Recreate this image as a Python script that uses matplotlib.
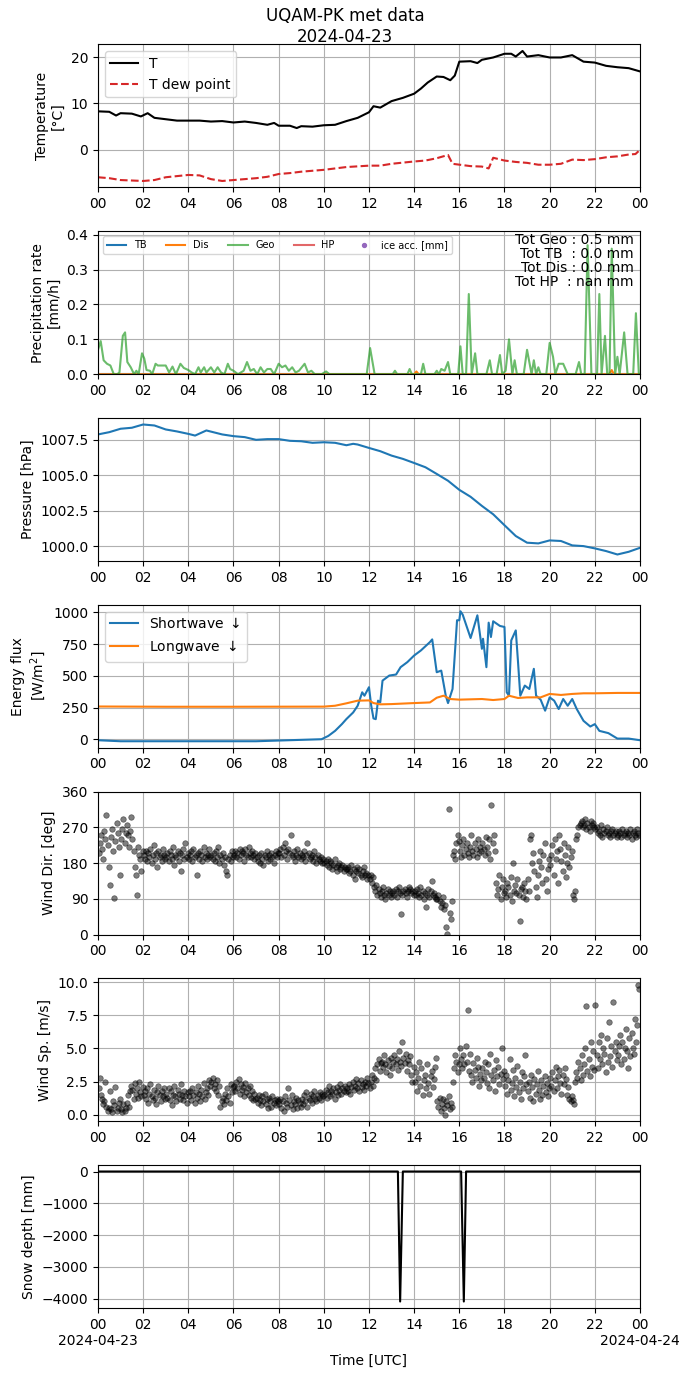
import numpy as np
import pandas as pd
import matplotlib
matplotlib.use("Agg")
import matplotlib.pyplot as plt
import matplotlib.dates as mdates
from matplotlib.ticker import FuncFormatter

BASE = pd.Timestamp("2024-04-23 00:00")

# ---------------- data ----------------
temp_hours = [0, 0.5, 0.8, 1, 1.5, 1.9, 2.2, 2.5, 3, 3.5, 4, 4.5, 5, 5.5, 6, 6.5, 7, 7.5, 7.8, 8, 8.5,
              8.8, 9, 9.5, 10, 10.5, 11, 11.5, 12, 12.2, 12.5, 13, 13.5, 14, 14.3, 14.6, 15, 15.3, 15.6,
              15.8, 16, 16.5, 16.8, 17, 17.5, 18, 18.3, 18.5, 18.8, 19, 19.5, 20, 20.5, 21, 21.5, 22,
              22.5, 23, 23.5, 24]
temp_T = [8.3, 8.2, 7.4, 7.9, 7.8, 7.2, 7.9, 6.9, 6.6, 6.3, 6.3, 6.3, 6.1, 6.2, 5.9, 6.1, 5.8, 5.4, 5.8,
          5.2, 5.2, 4.7, 5.1, 5.0, 5.3, 5.4, 6.2, 6.9, 8.1, 9.4, 9.1, 10.5, 11.2, 12.1, 13.2, 14.5, 15.8,
          15.7, 15.0, 16.0, 19.0, 19.1, 18.7, 19.4, 19.9, 20.7, 20.7, 20.1, 21.3, 20.1, 20.4, 19.9, 19.9,
          20.4, 19.0, 18.8, 18.1, 17.8, 17.6, 16.9]

dew_hours = [0, 0.5, 1, 2, 2.5, 3, 4, 4.5, 5, 5.5, 6, 6.5, 7, 7.5, 8, 8.5, 9, 10, 11, 12, 12.5, 13, 14,
             14.5, 15, 15.5, 15.7, 16.5, 17, 17.3, 17.5, 18, 18.5, 19, 19.5, 20, 20.5, 21, 21.5, 22,
             22.5, 23, 23.5, 23.8, 24]
dew_T = [-5.9, -6.1, -6.5, -6.7, -6.5, -5.9, -5.4, -5.5, -6.3, -6.7, -6.5, -6.3, -6.1, -5.8, -5.2, -5.0,
         -4.7, -4.3, -3.7, -3.4, -3.4, -3.0, -2.5, -2.3, -1.8, -1.1, -3.0, -3.5, -3.6, -4.0, -1.7, -2.3,
         -2.6, -2.8, -3.2, -3.2, -3.0, -2.1, -2.2, -2.0, -1.6, -1.4, -1.0, -0.9, 0.0]

geo_hours = [0.0, 0.12, 0.25, 0.4, 0.55, 0.7, 0.85, 0.95, 1.1, 1.2, 1.3, 1.45, 1.6, 1.7, 1.8, 1.95, 2.05,
             2.15, 2.3, 2.4, 2.55, 2.65, 2.8, 3.0, 3.15, 3.3, 3.45, 3.65, 3.8, 4.0, 4.15, 4.3, 4.45, 4.55,
             4.7, 4.8, 5.0, 5.15, 5.3, 5.45, 5.6, 5.75, 5.85, 6.0, 6.2, 6.45, 6.6, 6.75, 6.9, 7.05, 7.2,
             7.35, 7.5, 7.65, 7.8, 8.0, 8.15, 8.3, 8.45, 8.6, 8.75, 8.9, 9.15, 9.3, 9.45, 9.6, 9.9, 10.1,
             10.25, 11.9, 12.05, 12.25, 13.05, 13.15, 13.25, 13.7, 13.8, 13.9, 14.3, 14.4, 14.5, 14.9,
             15.0, 15.1, 15.2, 15.35, 15.5, 15.6, 15.95, 16.05, 16.15, 16.3, 16.42, 16.55, 16.7, 16.8,
             17.2, 17.35, 17.45, 17.65, 17.8, 17.9, 18.05, 18.2, 18.35, 18.45, 18.55, 18.85, 19.0, 19.2,
             19.3, 19.4, 19.5, 19.6, 19.85, 20.0, 20.15, 20.25, 20.4, 20.6, 20.8, 21.15, 21.3, 21.4,
             21.55, 21.68, 21.85, 22.1, 22.2, 22.3, 22.45, 22.55, 22.65, 22.75, 22.9, 23.0, 23.1, 23.3,
             23.45, 23.7, 23.82, 23.95, 24.0]
geo_rate = [0.07, 0.095, 0.04, 0.03, 0.025, 0.0, 0.0, 0.005, 0.11, 0.12, 0.035, 0.02, 0.0, 0.01, 0.0,
            0.06, 0.045, 0.012, 0.01, 0.0, 0.03, 0.025, 0.025, 0.025, 0.005, 0.022, 0.0, 0.03, 0.018,
            0.012, 0.005, 0.0, 0.02, 0.005, 0.02, 0.005, 0.02, 0.005, 0.02, 0.005, 0.0, 0.03, 0.015, 0.01,
            0.0, 0.01, 0.035, 0.01, 0.015, 0.0, 0.02, 0.005, 0.015, 0.015, 0.0, 0.03, 0.02, 0.025, 0.01,
            0.02, 0.005, 0.01, 0.03, 0.005, 0.01, 0.0, 0.0, 0.008, 0.0, 0.0, 0.075, 0.0, 0.0, 0.01, 0.0,
            0.0, 0.015, 0.0, 0.0, 0.03, 0.0, 0.0, 0.01, 0.0, 0.015, 0.01, 0.035, 0.0, 0.0, 0.08, 0.0, 0.0,
            0.23, 0.0, 0.06, 0.0, 0.0, 0.04, 0.0, 0.0, 0.055, 0.0, 0.01, 0.1, 0.0, 0.04, 0.0, 0.0, 0.07,
            0.0, 0.04, 0.0, 0.02, 0.0, 0.0, 0.09, 0.05, 0.0, 0.03, 0.03, 0.0, 0.0, 0.035, 0.0, 0.0, 0.37,
            0.0, 0.0, 0.23, 0.0, 0.11, 0.0, 0.0, 0.36, 0.0, 0.05, 0.0, 0.12, 0.0, 0.0, 0.175, 0.0, 0.0]

flat_hours = [0, 14.0, 14.1, 14.2, 22.65, 22.75, 22.85, 24]
tb_rate = [0, 0, 0, 0, 0, 0, 0, 0]
dis_rate = [0, 0, 0.008, 0, 0, 0.012, 0, 0]
hp_rate = [np.nan] * 8

precip_totals = {"Geo": "0.5", "TB ": "0.0", "Dis": "0.0", "HP ": "nan"}

pres_hours = [0, 0.5, 1, 1.5, 2, 2.5, 3, 3.5, 4, 4.3, 4.8, 5.5, 6, 6.5, 7, 7.5, 8, 8.5, 9, 9.5, 10, 10.5,
              11, 11.3, 11.5, 12, 12.5, 13, 13.5, 14, 14.5, 15, 15.5, 16, 16.5, 17, 17.5, 18, 18.5, 19,
              19.5, 20, 20.5, 21, 21.5, 22, 22.5, 23, 23.5, 24]
pressure = [1007.88, 1008.04, 1008.28, 1008.35, 1008.58, 1008.51, 1008.23, 1008.09, 1007.92, 1007.80,
            1008.16, 1007.88, 1007.76, 1007.69, 1007.50, 1007.55, 1007.55, 1007.43, 1007.40, 1007.29,
            1007.33, 1007.29, 1007.12, 1007.22, 1007.17, 1006.93, 1006.70, 1006.39, 1006.16, 1005.87,
            1005.57, 1005.10, 1004.62, 1003.98, 1003.49, 1002.85, 1002.26, 1001.49, 1000.73, 1000.26,
            1000.21, 1000.42, 1000.38, 1000.07, 1000.02, 999.86, 999.67, 999.43, 999.62, 999.90]

lw_hours = [0, 3, 6, 10, 10.5, 11, 11.5, 12, 12.2, 12.5, 13, 14, 14.7, 15, 15.3, 15.6, 16, 17, 17.5, 18,
            18.2, 18.6, 19, 19.6, 20, 20.5, 21, 21.5, 22, 23, 24]
longwave = [258, 256, 256, 257, 264, 283, 304, 306, 285, 275, 277, 285, 290, 327, 343, 317, 312, 317,
            309, 317, 343, 325, 330, 330, 357, 349, 357, 362, 362, 365, 365]

sw_hours = [0, 1, 4, 7, 9.9, 10.2, 10.5, 10.8, 11, 11.3, 11.5, 11.7, 11.8, 12, 12.1, 12.2, 12.3, 12.4,
            12.5, 12.6, 12.9, 13.2, 13.4, 13.7, 14, 14.3, 14.7, 14.8, 15, 15.2, 15.4, 15.5, 15.7, 15.9,
            16, 16.05, 16.15, 16.3, 16.5, 16.8, 17, 17.05, 17.2, 17.3, 17.4, 17.5, 17.8, 18, 18.1, 18.2,
            18.3, 18.5, 18.6, 18.7, 18.9, 19.1, 19.3, 19.4, 19.6, 19.8, 20, 20.2, 20.4, 20.6, 20.8, 21,
            21.2, 21.5, 21.8, 22, 22.2, 22.6, 23, 23.5, 24]
shortwave = [-8, -16, -16, -16, 0, 26, 66, 119, 159, 211, 264, 370, 343, 410, 264, 164, 158, 304, 291,
             462, 502, 510, 568, 608, 660, 700, 766, 787, 528, 541, 343, 285, 396, 938, 938, 1009, 982,
             903, 798, 977, 713, 792, 568, 919, 806, 930, 893, 885, 370, 343, 779, 858, 608, 343, 423,
             396, 555, 343, 312, 225, 330, 304, 238, 317, 264, 317, 238, 145, 100, 119, 66, 48, 5, 5, -8]

wind_dir = [
    205, 230, 250, 215, 190, 260, 240, 300, 225, 170, 125, 245, 265, 210, 93, 235, 280, 255, 220, 150,
    240, 265, 290, 230, 255, 275, 250, 220, 260, 295, 240, 210, 170, 150, 100, 220, 200, 190, 160, 210,
    200, 190, 210, 185, 205, 195, 215, 180, 200, 225, 190, 205, 170, 210, 195, 200, 185, 215, 200, 190,
    195, 205, 185, 210, 200, 190, 220, 175, 200, 195, 210, 185, 205, 160, 200, 215, 190, 230, 195, 205,
    190, 200, 210, 185, 215, 195, 200, 150, 205, 190, 210, 200, 185, 220, 195, 205, 190, 200, 215, 195,
    200, 190, 205, 185, 210, 195, 220, 180, 200, 190, 205, 175, 195, 160, 150, 190, 200, 185, 210, 195,
    200, 210, 195, 205, 190, 215, 200, 210, 205, 185, 215, 200, 195, 220, 205, 195, 210, 200, 190, 205,
    195, 185, 200, 180, 205, 190, 175, 200, 195, 210, 185, 200, 190, 205, 195, 180, 200, 210, 195, 205,
    205, 215, 195, 220, 200, 230, 210, 190, 215, 205, 250, 200, 195, 210, 185, 200, 215, 195, 205, 190,
    200, 195, 210, 185, 200, 230, 205, 190, 195, 200, 185, 210, 195, 180, 200, 190, 185, 195, 180, 190,
    180, 185, 175, 190, 170, 185, 180, 165, 175, 190, 170, 160, 175, 180, 165, 170, 175, 160, 170, 165,
    165, 170, 155, 160, 175, 150, 165, 140, 160, 170, 155, 165, 150, 145, 160, 170, 150, 155, 140, 150,
    140, 150, 130, 145, 120, 110, 125, 100, 115, 105, 95, 110, 120, 100, 90, 105, 115, 100, 110, 95,
    105, 110, 100, 115, 95, 110, 120, 105, 52, 100, 110, 115, 105, 95, 110, 120, 115, 105, 110, 100,
    110, 100, 115, 105, 95, 120, 100, 110, 90, 105, 70, 100, 115, 95, 110, 135, 100, 105, 95, 90,
    90, 100, 85, 70, 80, 95, 65, 75, 18, 2, 315, 55, 40, 85, 200, 210, 190, 230, 250, 235,
    210, 195, 225, 240, 200, 215, 230, 205, 195, 220, 250, 210, 200, 230, 215, 195, 240, 205, 220, 210,
    230, 215, 200, 245, 220, 205, 240, 190, 325, 230, 250, 210, 130, 100, 115, 150, 90, 120, 140, 105,
    110, 95, 130, 120, 100, 145, 85, 180, 110, 125, 105, 140, 100, 35, 115, 120, 95, 130, 110, 90,
    140, 110, 240, 250, 180, 205, 160, 120, 95, 150, 185, 210, 170, 130, 200, 230, 140, 110, 165, 190,
    175, 200, 225, 150, 240, 190, 210, 130, 250, 215, 185, 160, 230, 200, 145, 180, 220, 170, 195, 210,
    100, 90, 110, 240, 250, 270, 275, 280, 285, 270, 275, 290, 265, 280, 270, 260, 285, 275, 280, 270,
    265, 270, 255, 260, 250, 275, 245, 265, 255, 260, 270, 250, 255, 245, 260, 265, 250, 255, 260, 245,
    250, 260, 255, 245, 265, 250, 255, 260, 245, 255, 250, 265, 240, 255, 260, 250, 245, 265, 255, 250,
]

wind_speed = [
    2.0, 2.8, 1.5, 1.2, 0.8, 1.0, 2.5, 0.6, 0.3, 0.5, 1.8, 0.4, 0.2, 1.0, 0.7, 2.1, 0.3, 0.5, 0.9, 1.2,
    0.4, 0.2, 0.8, 0.3, 0.5, 0.9, 1.5, 0.6, 1.8, 2.2, 1.9, 1.2, 2.4, 1.6, 2.0, 1.3, 2.5, 1.7, 1.4, 2.1,
    1.5, 1.8, 1.2, 2.0, 0.9, 1.6, 2.3, 1.4, 1.1, 1.9, 1.3, 0.8, 1.7, 2.2, 1.5, 1.0, 1.8, 1.4, 2.0, 1.2,
    1.6, 1.3, 2.0, 1.1, 1.8, 0.7, 1.5, 2.2, 1.4, 1.0, 1.9, 1.6, 1.2, 2.3, 1.5, 1.1, 1.8, 1.4, 0.9, 1.7,
    1.4, 1.8, 1.1, 2.0, 1.5, 0.9, 1.7, 1.3, 2.2, 1.6, 1.0, 1.9, 1.4, 2.4, 1.2, 1.7, 2.0, 1.5, 2.6, 2.2,
    2.5, 2.8, 2.0, 2.3, 1.8, 2.6, 1.5, 2.2, 0.6, 1.0, 1.3, 0.8, 1.6, 1.1, 2.0, 1.4, 0.9, 2.3, 1.7, 2.1,
    2.2, 1.8, 2.5, 2.0, 2.7, 1.6, 2.3, 1.9, 2.1, 1.4, 2.4, 1.7, 2.0, 1.5, 2.2, 1.3, 1.8, 1.1, 1.6, 1.2,
    1.3, 0.9, 1.5, 1.1, 0.7, 1.4, 1.0, 1.6, 0.8, 1.2, 0.5, 1.3, 1.0, 0.6, 1.4, 0.9, 1.1, 0.7, 1.2, 1.0,
    0.8, 1.2, 0.5, 1.0, 0.3, 1.4, 0.9, 0.6, 2.0, 1.1, 0.7, 1.5, 0.4, 1.0, 0.8, 1.3, 0.5, 1.1, 0.9, 0.6,
    1.2, 0.8, 1.5, 1.0, 1.7, 0.6, 1.3, 1.1, 1.6, 0.9, 1.4, 1.8, 1.2, 1.0, 1.5, 1.3, 1.7, 1.1, 1.6, 1.4,
    1.5, 1.9, 1.3, 1.7, 2.2, 1.4, 1.8, 1.6, 2.0, 1.2, 1.7, 2.1, 1.5, 1.9, 2.3, 1.6, 2.0, 1.8, 2.2, 1.7,
    2.0, 1.8, 2.3, 1.6, 2.1, 2.5, 1.9, 2.2, 2.7, 2.0, 2.4, 1.8, 2.6, 2.1, 2.3, 1.9, 2.5, 2.2, 2.8, 2.4,
    2.0, 2.5, 3.0, 2.2, 2.8, 3.5, 2.6, 3.8, 4.2, 3.3, 3.9, 4.0, 3.6, 4.5, 3.8, 3.2, 4.1, 3.7, 3.0, 4.3,
    3.5, 4.0, 4.5, 3.8, 4.2, 3.4, 4.8, 4.0, 3.7, 5.5, 4.3, 3.9, 4.6, 3.3, 4.1, 3.8, 4.4, 3.0, 2.5, 3.6,
    2.5, 3.2, 1.8, 2.8, 4.0, 2.2, 3.5, 1.5, 2.6, 3.0, 2.0, 3.8, 2.4, 1.6, 2.9, 3.3, 2.1, 2.7, 3.6, 4.3,
    1.0, 0.6, 1.3, 0.3, 0.8, 1.2, 0.5, 0.0, 1.0, 0.7, 1.4, 0.4, 0.9, 0.6, 2.5, 3.5, 4.5, 4.0, 3.2, 3.8,
    5.0, 4.2, 3.5, 4.5, 3.8, 5.2, 4.0, 7.9, 3.3, 4.6, 3.0, 2.5, 3.9, 3.4, 2.8, 4.3, 3.6, 2.2, 3.1, 2.6,
    3.5, 2.8, 4.0, 3.2, 2.4, 3.8, 2.0, 4.6, 3.0, 2.6, 3.4, 1.8, 4.1, 2.9, 3.6, 2.3, 3.1, 5.0, 2.7, 3.3,
    2.2, 3.0, 1.6, 2.6, 4.2, 1.9, 2.4, 3.4, 1.4, 2.8, 2.1, 3.7, 1.7, 2.5, 1.2, 3.2, 2.0, 2.9, 4.5, 2.3,
    1.8, 2.5, 1.3, 3.0, 2.1, 1.0, 2.7, 1.6, 2.3, 3.3, 1.9, 1.2, 2.6, 1.5, 2.2, 2.9, 1.7, 2.4, 1.4, 2.0,
    2.8, 2.2, 3.2, 1.8, 2.6, 3.6, 2.0, 2.9, 3.4, 2.4, 1.6, 3.0, 2.3, 3.5, 2.7, 1.5, 2.1, 1.2, 1.0, 1.4,
    1.1, 0.8, 2.5, 3.2, 2.8, 4.0, 3.5, 2.6, 4.5, 3.0, 3.8, 5.0, 8.2, 3.3, 4.2, 2.9, 5.5, 3.6, 4.8, 3.4,
    8.3, 4.5, 3.5, 5.5, 4.2, 6.0, 3.8, 5.0, 4.6, 3.2, 5.8, 4.0, 7.0, 4.4, 5.2, 3.6, 8.5, 4.8, 5.5, 4.1,
    4.5, 5.2, 6.0, 3.8, 5.5, 4.2, 5.0, 6.5, 4.8, 3.5, 5.8, 4.4, 6.2, 5.0, 4.6, 7.2, 5.5, 6.8, 9.8, 9.5,
]
wind_per_hour = 20

snow_hours = [0, 13.28, 13.38, 13.5, 16.08, 16.2, 16.3, 24]
snow_depth = [0, 0, -4090, 0, 0, -4090, 0, 0]


def to_time(hours):
    return BASE + pd.to_timedelta(np.asarray(hours, dtype=float), unit="h")


wind_hours = (np.arange(len(wind_dir)) + 0.5) / wind_per_hour

# ---------------- figure ----------------
fig, axes = plt.subplots(7, 1, figsize=(6.9, 13.77), dpi=100)
fig.subplots_adjust(left=0.142, right=0.9275, top=0.9677, bottom=0.0501, hspace=0.306)
fig.suptitle("UQAM-PK met data\n2024-04-23", fontsize=12, y=0.995)

# Temperature
ax = axes[0]
ax.plot(to_time(temp_hours), temp_T, color="k", lw=1.5, label="T")
ax.plot(to_time(dew_hours), dew_T, color="tab:red", ls="--", lw=1.5, label="T dew point")
ax.set_ylabel("Temperature\n[°C]")
ax.legend(loc="upper left")

# Precipitation
ax = axes[1]
ax.plot(to_time(flat_hours), tb_rate, color="tab:blue", lw=1.5, label="TB")
ax.plot(to_time(flat_hours), dis_rate, color="tab:orange", lw=1.5, label="Dis")
ax.plot(to_time(geo_hours), geo_rate, color="tab:green", alpha=0.7, lw=1.5, label="Geo")
ax.plot(to_time(flat_hours), hp_rate, color="tab:red", alpha=0.7, lw=1.5, label="HP")
ax.scatter([], [], color="tab:purple", s=8, label="ice acc. [mm]")
ax.set_ylim(0, 0.41)
ax.set_ylabel("Precipitation rate\n[mm/h]")
ax.legend(loc="upper left", ncol=5, fontsize=7)
txt = "\n".join(f"Tot {k} : {v} mm" for k, v in precip_totals.items())
ax.text(0.988, 0.985, txt, transform=ax.transAxes, ha="right", va="top", fontsize=10,
        linespacing=0.99)

# Pressure
ax = axes[2]
ax.plot(to_time(pres_hours), pressure, color="tab:blue", lw=1.5)
ax.set_ylabel("Pressure [hPa]")

# Energy flux
ax = axes[3]
ax.plot(to_time(sw_hours), shortwave, color="tab:blue", lw=1.5, label="Shortwave $\\downarrow$")
ax.plot(to_time(lw_hours), longwave, color="tab:orange", lw=1.5, label="Longwave $\\downarrow$")
ax.set_ylabel("Energy flux\n[W/m$^2$]")
ax.legend(loc="upper left")

# Wind direction
ax = axes[4]
ax.plot(to_time(wind_hours), wind_dir, "o", color="k", alpha=0.5, ms=4, mew=0.5)
ax.set_ylim(0, 360)
ax.set_yticks([0, 90, 180, 270, 360])
ax.set_ylabel("Wind Dir. [deg]")

# Wind speed
ax = axes[5]
ax.plot(to_time(wind_hours), wind_speed, "o", color="k", alpha=0.5, ms=4, mew=0.5)
ax.set_yticks([0, 2.5, 5.0, 7.5, 10.0])
ax.set_ylabel("Wind Sp. [m/s]")

# Snow depth
ax = axes[6]
ax.plot(to_time(snow_hours), snow_depth, color="k", lw=1.5)
ax.set_ylabel("Snow depth [mm]")
ax.set_xlabel("Time [UTC]")

start = BASE
end = BASE + pd.Timedelta(hours=24)
for i, ax in enumerate(axes):
    ax.set_xlim(start, end)
    ax.xaxis.set_major_locator(mdates.HourLocator(byhour=range(0, 24, 2)))
    ax.xaxis.set_major_formatter(mdates.DateFormatter("%H"))
    ax.grid(True)


def bottom_fmt(x, pos):
    d = mdates.num2date(x)
    if d.hour == 0:
        return d.strftime("%H\n%Y-%m-%d")
    return d.strftime("%H")


axes[6].xaxis.set_major_formatter(FuncFormatter(bottom_fmt))

fig.savefig("out.png", dpi=100)
